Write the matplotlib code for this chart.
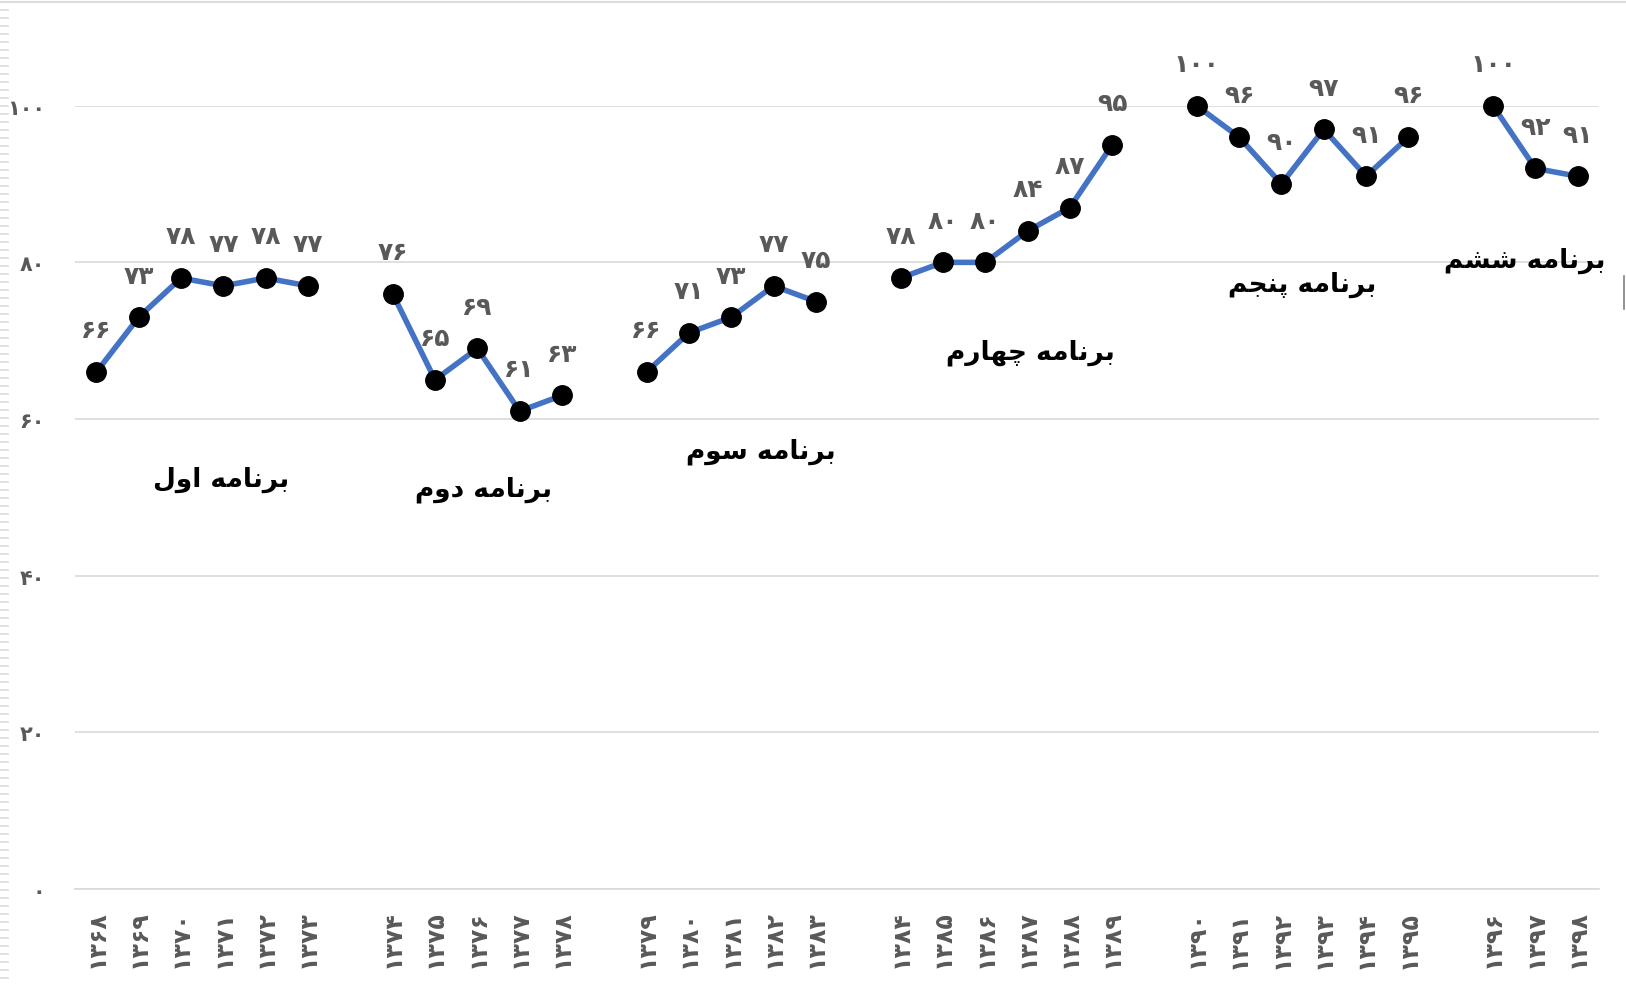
import numpy as np
import matplotlib
matplotlib.use("Agg")
import matplotlib.pyplot as plt
from matplotlib.lines import Line2D

plt.rcParams['font.family'] = ['DejaVu Sans']

# ---------------- data ----------------
programs = ["برنامه اول", "برنامه دوم", "برنامه سوم", "برنامه چهارم", "برنامه پنجم", "برنامه ششم"]
years_1 = [1368, 1369, 1370, 1371, 1372, 1373]
years_2 = [1374, 1375, 1376, 1377, 1378]
years_3 = [1379, 1380, 1381, 1382, 1383]
years_4 = [1384, 1385, 1386, 1387, 1388, 1389]
years_5 = [1390, 1391, 1392, 1393, 1394, 1395]
years_6 = [1396, 1397, 1398]
values_1 = [66, 73, 78, 77, 78, 77]
values_2 = [76, 65, 69, 61, 63]
values_3 = [66, 71, 73, 77, 75]
values_4 = [78, 80, 80, 84, 87, 95]
values_5 = [100, 96, 90, 97, 91, 96]
values_6 = [100, 92, 91]
y_ticks = [0, 20, 40, 60, 80, 100]

# program title placement (x in category slots, y in data units)
title_pos = [(2.94, 52.4), (9.14, 51.1), (15.7, 55.9), (22.06, 68.6), (28.5, 77.2), (33.75, 80.3)]

# ---------------- helpers ----------------
FA = str.maketrans("0123456789", "۰۱۲۳۴۵۶۷۸۹")
def fa(n):
    return str(n).translate(FA)

# (isolated, final, initial, medial); 2-tuple => right-joining only
FORMS = {
    'ب': (0xFE8F, 0xFE90, 0xFE91, 0xFE92),
    'ر': (0xFEAD, 0xFEAE),
    'ن': (0xFEE5, 0xFEE6, 0xFEE7, 0xFEE8),
    'ا': (0xFE8D, 0xFE8E),
    'م': (0xFEE1, 0xFEE2, 0xFEE3, 0xFEE4),
    'ه': (0xFEE9, 0xFEEA, 0xFEEB, 0xFEEC),
    'و': (0xFEED, 0xFEEE),
    'ل': (0xFEDD, 0xFEDE, 0xFEDF, 0xFEE0),
    'د': (0xFEA9, 0xFEAA),
    'س': (0xFEB1, 0xFEB2, 0xFEB3, 0xFEB4),
    'ش': (0xFEB5, 0xFEB6, 0xFEB7, 0xFEB8),
    'ج': (0xFE9D, 0xFE9E, 0xFE9F, 0xFEA0),
    'پ': (0xFB56, 0xFB57, 0xFB58, 0xFB59),
    'چ': (0xFB7A, 0xFB7B, 0xFB7C, 0xFB7D),
}

def shape(text):
    out = []
    n = len(text)
    for i, ch in enumerate(text):
        if ch not in FORMS:
            out.append(ch)
            continue
        f = FORMS[ch]
        prev = text[i - 1] if i > 0 else None
        nxt = text[i + 1] if i < n - 1 else None
        join_prev = prev in FORMS and len(FORMS[prev]) == 4
        join_next = len(f) == 4 and nxt in FORMS
        if join_prev and join_next:
            code = f[3]
        elif join_prev:
            code = f[1]
        elif join_next:
            code = f[2]
        else:
            code = f[0]
        out.append(chr(code))
    return "".join(out)[::-1]

# ---------------- build series with gaps ----------------
year_groups = [years_1, years_2, years_3, years_4, years_5, years_6]
value_groups = [values_1, values_2, values_3, values_4, values_5, values_6]

labels, vals = [], []
for gi, (yrs, vs) in enumerate(zip(year_groups, value_groups)):
    if gi > 0:
        labels.append("")
        vals.append(np.nan)
    labels += [fa(y) for y in yrs]
    vals += vs
x = np.arange(len(vals))
vals = np.array(vals, dtype=float)

# ---------------- figure ----------------
W, H = 1626, 987
fig = plt.figure(figsize=(W / 100, H / 100), dpi=100)
ax = fig.add_axes([0.0463, 0.0986, 0.937, 0.7932])

ax.plot(x, vals, color="#4472C4", lw=4.0, marker="o", markersize=14,
        markerfacecolor="black", markeredgecolor="black", clip_on=False, zorder=3)

for xi, v in zip(x, vals):
    if np.isnan(v):
        continue
    ax.annotate(fa(int(v)), (xi, v), xytext=(0, 30), textcoords="offset points",
                ha="center", va="center", fontsize=18, fontweight="bold",
                color="#595959", annotation_clip=False)

for name, (tx, ty) in zip(programs, title_pos):
    ax.text(tx, ty, shape(name), ha="center", va="center", fontsize=19,
            fontweight="bold", color="black")

ax.set_xlim(-0.5, len(vals) - 0.5)
ax.set_ylim(0, 100)
ax.set_yticks(y_ticks)
ax.set_yticklabels([fa(t) for t in y_ticks], fontsize=15, fontweight="bold",
                   color="#595959")
ax.set_xticks(x)
ax.set_xticklabels(labels, rotation=90, fontsize=17, fontweight="bold",
                   color="#595959")
ax.tick_params(axis="y", length=0, pad=22)
ax.tick_params(axis="x", length=0, pad=15)

ax.grid(axis="y", color="#d9d9d9", lw=1.2)
ax.set_axisbelow(True)
for s in ["top", "right", "left"]:
    ax.spines[s].set_visible(False)
ax.spines["bottom"].set_color("#d9d9d9")
ax.spines["bottom"].set_linewidth(1.2)

# screenshot frame decorations: top border, left ruler ticks, right edge mark
fig.add_artist(Line2D([0, 1], [1 - 3 / H, 1 - 3 / H], color="#dcdcdc", lw=1.5))
for py in np.arange(11, H, 8):
    fig.add_artist(Line2D([0, 8 / W], [1 - py / H, 1 - py / H], color="#dcdcdc", lw=1.2))
fig.add_artist(Line2D([1 - 2 / W, 1 - 2 / W], [1 - 277 / H, 1 - 310 / H], color="#808080", lw=1.2))

fig.savefig("out.png", dpi=100)
